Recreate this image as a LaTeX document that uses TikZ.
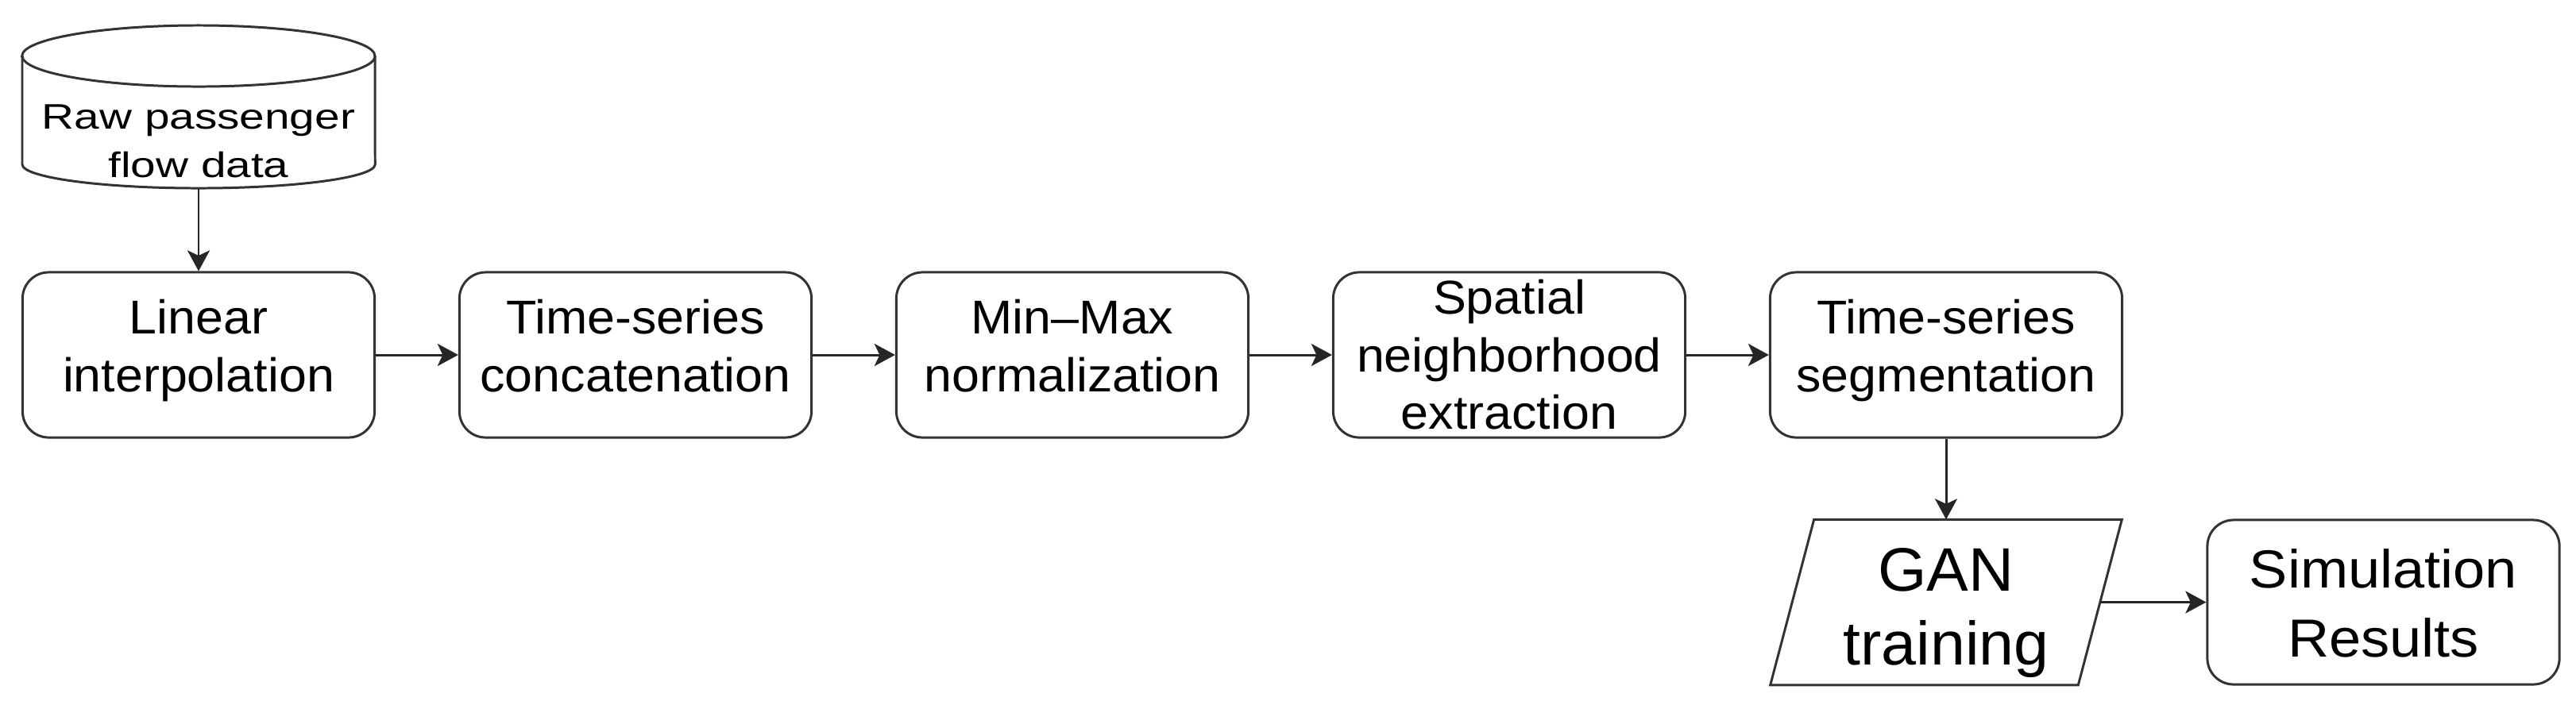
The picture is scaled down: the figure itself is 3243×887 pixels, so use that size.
\documentclass[tikz,border=0pt]{standalone}
\usepackage{fontspec}
\usetikzlibrary{arrows.meta,calc}
\newfontfamily\boxfont[FakeStretch=1.05]{Liberation Sans}
\newfontfamily\ganfont[FakeStretch=1.02]{Liberation Sans}
\newfontfamily\simfont[FakeStretch=1.07]{Liberation Sans}
\newfontfamily\cylfont[FakeStretch=1.27]{Liberation Sans}
\newcommand\tlines[3]{\rule{0pt}{#1}#3\rule[-#2]{0pt}{#2}}
\tikzset{
  shp/.style={draw=black!80, line width=0.85pt},
  procbox/.style={shp, fill=white, rounded corners=0.33cm, minimum width=4.43cm,
    minimum height=2.08cm, inner xsep=0pt, inner ysep=0pt, align=center,
    font=\boxfont\fontsize{17}{20.49}\selectfont},
  arr/.style={draw=black!85, line width=0.85pt,
    -{Stealth[length=0.26cm,width=0.28cm,inset=0.065cm]}},
}
\begin{document}
\begin{tikzpicture}[x=0.01cm,y=0.01cm]
\fill[white] (0,0) rectangle (3243,-887);
\useasboundingbox (0,0) rectangle (3243,-887);

% cylinder
\draw[shp, fill=white] (28,-70.5) -- (28,-207)
  arc[start angle=180,end angle=360,x radius=2.22cm,y radius=0.30cm]
  -- (472,-70.5)
  arc[start angle=0,end angle=180,x radius=2.22cm,y radius=0.385cm] -- cycle;
\draw[shp] (28,-70.5) arc[start angle=180,end angle=360,x radius=2.22cm,y radius=0.385cm];
\node[inner sep=0pt, minimum width=4.44cm, align=center,
  font=\cylfont\fontsize{12.7}{17.36}\selectfont] (raw) at (250,-134.5)
  {\tlines{36.99pt}{3.98pt}{Raw passenger\\flow data}};

% process row
\node[procbox] (lin) at (250,-447) {\tlines{22.19pt}{16.5pt}{Linear\\interpolation}};
\node[procbox] (tsc) at (800,-447) {\tlines{22.19pt}{16.5pt}{Time-series\\concatenation}};
\node[procbox] (mmn) at (1350,-447) {\tlines{22.19pt}{16.5pt}{Min–Max\\normalization}};
\node[procbox] (spn) at (1900,-447) {\tlines{15.08pt}{3.13pt}{Spatial\\neighborhood\\extraction}};
\node[procbox] (seg) at (2450,-447) {\tlines{22.19pt}{16.5pt}{Time-series\\segmentation}};

% GAN parallelogram
\node[inner sep=0pt, minimum width=3.86cm, align=center,
  font=\ganfont\fontsize{22}{26.46}\selectfont] (gan) at (2450,-758.5)
  {\tlines{25.32pt}{7.11pt}{GAN\\training}};
\draw[shp] ($(gan.north west)+(27.5,0)$) -- ($(gan.north east)+(27.5,0)$)
  -- ($(gan.south east)+(-27.5,0)$) -- ($(gan.south west)+(-27.5,0)$) -- cycle;

% simulation results
\node[shp, fill=white, rounded corners=0.33cm, minimum width=4.43cm, minimum height=2.07cm,
  inner xsep=0pt, inner ysep=0pt, align=center,
  font=\simfont\fontsize{19.2}{24.75}\selectfont] (sim) at (3000.5,-758.5)
  {\tlines{24.19pt}{9.96pt}{Simulation\\Results}};

% connectors
\draw[arr] (raw.south) -- (lin.north);
\draw[arr] (lin.east) -- (tsc.west);
\draw[arr] (tsc.east) -- (mmn.west);
\draw[arr] (mmn.east) -- (spn.west);
\draw[arr] (spn.east) -- (seg.west);
\draw[arr] (seg.south) -- (gan.north);
\draw[arr] (gan.east) -- (sim.west);
\end{tikzpicture}
\end{document}
